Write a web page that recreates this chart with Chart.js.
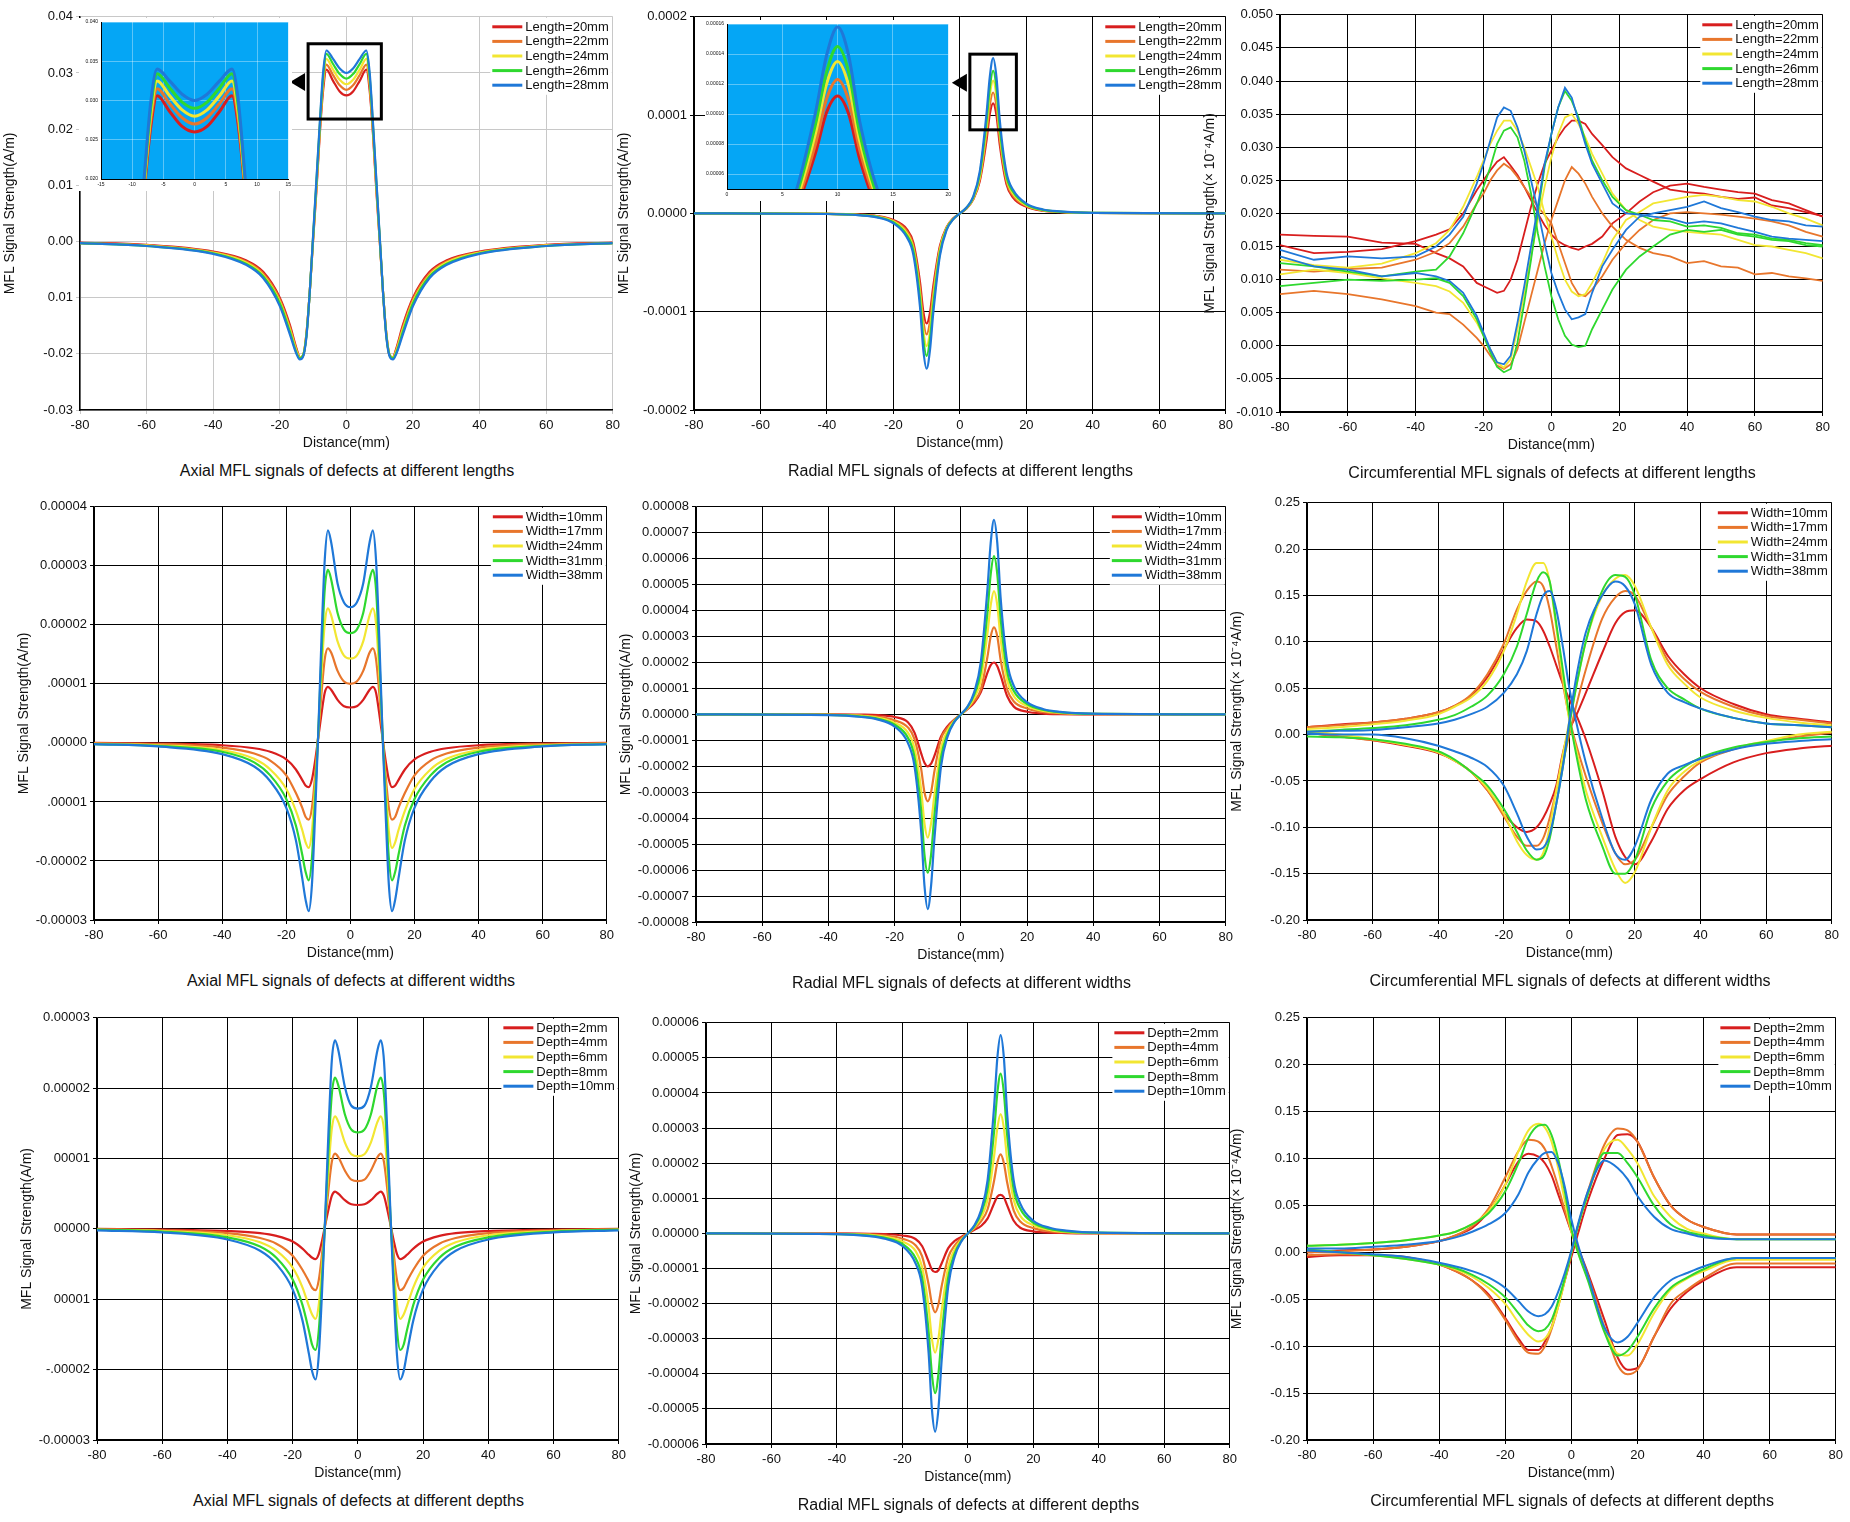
<!DOCTYPE html>
<html>
<head>
<meta charset="utf-8">
<script src="https://cdn.jsdelivr.net/npm/chart.js@4.4.1/dist/chart.umd.min.js"></script>
<style>
  body { margin: 0; background: #fff; width: 1850px; height: 1522px; position: relative; overflow: hidden;
         font-family: "Liberation Sans", Arial, sans-serif; }
  canvas { position: absolute; }
  .cap { position: absolute; font-size: 16px; color: #111; text-align: center; white-space: nowrap; }
</style>
</head>
<body>
<script>
// ---------- x grids ----------
const xAxial = [-80,-60,-40,-30,-25,-20,-17,-15,-14,-13,-12,-11,-10,-9,-8,-7,-6,-4,-2,0,2,4,6,7,8,9,10,11,12,13,14,15,17,20,25,30,40,60,80];
const xRadial = [-80,-40,-30,-25,-20,-16,-14,-12,-11,-10,-9,-8,-6,-4,-2,0,2,4,6,8,9,10,11,12,14,16,20,25,30,40,80];
const xCircLen = [-80,-70,-60,-50,-40,-34,-30,-26,-22,-20,-18,-16,-14,-12,-10,-8,-6,-4,-2,0,2,4,6,8,10,12,15,18,22,26,30,35,40,45,50,55,60,65,70,75,80];
const xCirc = [-80,-70,-60,-50,-40,-35,-30,-25,-20,-16,-13,-10,-8,-6,-4,-2,0,2,5,10,14,17,20,25,30,35,40,50,60,70,80];

// ---------- legends ----------
const lengthLabels = ['Length=20mm','Length=22mm','Length=24mm','Length=26mm','Length=28mm'];
const widthLabels = ['Width=10mm','Width=17mm','Width=24mm','Width=31mm','Width=38mm'];
const depthLabels = ['Depth=2mm','Depth=4mm','Depth=6mm','Depth=8mm','Depth=10mm'];
const colors = ['#d81e1e','#e8762c','#f2e632','#2fd82f','#1f78d8'];

// ---------- axial, lengths (x 1e-3 A/m) ----------
const axLenRed = [-0.2,-0.6,-1.8,-3.4,-5.4,-10,-14.8,-19,-20.6,-20.3,-16.4,-9,0.2,9,19,26.8,30.6,28.6,26.7,26,26.7,28.6,30.6,26.8,19,9,0.2,-9,-16.4,-20.3,-20.6,-19,-14.8,-10,-5.4,-3.4,-1.8,-0.6,-0.2];
const axLenOrange = [-0.3,-0.7,-1.9,-3.6,-5.7,-10.3,-15.2,-19.2,-20.6,-20.3,-16.5,-9,0.4,9.6,19.5,27.6,31.5,29.6,27.8,27,27.8,29.6,31.5,27.6,19.5,9.6,0.4,-9,-16.5,-20.3,-20.6,-19.2,-15.2,-10.3,-5.7,-3.6,-1.9,-0.7,-0.3];
const axLenYellow = [-0.3,-0.7,-2.0,-3.8,-6.0,-10.7,-15.6,-19.5,-20.7,-20.2,-16.6,-9,0.6,10,20,28.4,32.5,30.6,28.8,28,28.8,30.6,32.5,28.4,20,10,0.6,-9,-16.6,-20.2,-20.7,-19.5,-15.6,-10.7,-6.0,-3.8,-2.0,-0.7,-0.3];
const axLenGreen = [-0.3,-0.8,-2.1,-4.0,-6.2,-11,-16,-19.8,-20.8,-20.3,-16.8,-9,0.8,10.5,20.5,29.2,33.4,31.6,29.8,29,29.8,31.6,33.4,29.2,20.5,10.5,0.8,-9,-16.8,-20.3,-20.8,-19.8,-16,-11,-6.2,-4.0,-2.1,-0.8,-0.3];
const axLenBlue = [-0.3,-0.8,-2.2,-4.2,-6.5,-11.5,-16.5,-20,-21,-20.5,-17,-9,1,11,21,30,34,32.5,30.8,30,30.8,32.5,34,30,21,11,1,-9,-17,-20.5,-21,-20,-16.5,-11.5,-6.5,-4.2,-2.2,-0.8,-0.3];

// ---------- radial, lengths (x 1e-6 A/m) ----------
const raLenRed = [0,-0.4,-1.2,-2.7,-6.8,-16,-30,-70,-100,-112,-101,-74,-33,-14,-5,0,5,14,33,74,101,112,100,70,30,16,6.8,2.7,1.2,0.4,0];
const raLenOrange = [0,-0.4,-1.4,-3,-7.5,-18,-33,-76,-109,-123,-110,-80,-35,-14.5,-5.3,0,5.3,14.5,35,80,110,123,109,76,33,18,7.5,3,1.4,0.4,0];
const raLenYellow = [0,-0.5,-1.6,-3.3,-8.3,-20,-36,-82,-119,-135,-120,-87,-37,-15,-5.5,0,5.5,15,37,87,120,135,119,82,36,20,8.3,3.3,1.6,0.5,0];
const raLenGreen = [0,-0.5,-1.8,-3.6,-9,-22,-38,-87,-128,-145,-128,-93,-40,-16,-5.8,0,5.8,16,40,93,128,145,128,87,38,22,9,3.6,1.8,0.5,0];
const raLenBlue = [0,-0.6,-2,-4,-10,-24,-42,-95,-139,-158,-139,-101,-43,-17,-6,0,6,17,43,101,139,158,139,95,42,24,10,4,2,0.6,0];

// ---------- circumferential, lengths (x 1e-3), two branches each ----------
const ciLenRedA = [16.8,16.6,16.5,15.6,15.4,14.0,13.2,12.0,9.5,9.0,8.5,8.0,8.3,10.0,13.0,17.0,21.0,24.5,27.5,29.5,31.5,33.0,34.0,34.0,33.5,32.0,30.3,28.5,26.8,25.8,24.8,23.6,23.2,23.0,22.5,22.2,22.4,21.2,20.8,20.2,19.6];
const ciLenRedB = [15.2,14.0,14.2,14.6,15.8,16.8,17.6,20.0,23.5,25.0,26.5,27.8,28.5,27.2,25.8,24.0,22.0,20.0,18.2,16.8,15.8,15.2,14.8,14.5,15.0,15.4,16.5,18.5,20.0,21.8,23.2,24.2,24.5,24.0,23.6,23.2,23.0,22.0,21.5,20.5,19.5];
const ciLenOrangeA = [11.5,11.2,11.6,11.8,13.0,14.2,15.5,18.0,21.5,23.0,25.0,26.5,27.5,26.8,25.5,24.0,22.5,21.0,19.8,18.5,15.5,12.5,9.5,7.8,7.5,8.5,10.5,13.0,15.5,17.5,19.0,20.0,20.2,20.0,19.8,19.5,19.2,18.8,18.2,17.2,16.5];
const ciLenOrangeB = [7.8,8.3,7.8,7.0,6.0,5.0,4.8,3.2,1.2,0.0,-1.5,-3.0,-3.5,-2.8,-0.5,3.5,7.5,11.5,15.5,19.0,22.0,25.0,27.0,26.0,24.5,22.5,20.0,18.0,16.0,14.8,14.0,13.5,12.5,12.8,12.0,11.8,10.8,11.0,10.5,10.2,9.8];
const ciLenYellowA = [13.0,12.2,11.8,12.4,14.0,15.5,17.5,21.0,25.5,28.0,30.5,32.5,34.0,34.0,32.5,30.0,27.0,24.0,20.0,16.5,13.0,10.0,8.2,7.5,7.8,9.5,12.5,16.0,19.0,20.2,21.5,22.0,22.5,22.8,22.5,22.0,21.8,21.0,20.0,19.2,18.2];
const ciLenYellowB = [10.8,11.5,11.0,10.2,9.5,9.0,8.2,6.5,3.5,1.5,-0.5,-2.5,-3.3,-2.0,2.5,8.0,13.5,19.0,24.0,28.5,32.0,34.5,35.0,33.5,31.5,29.0,26.0,23.0,20.5,19.0,18.0,17.5,17.2,17.0,16.8,16.0,15.2,15.0,14.5,14.0,13.2];
const ciLenGreenA = [12.5,12.0,11.2,10.5,11.2,11.5,13.5,17.0,21.5,24.0,27.0,30.5,32.5,33.0,31.5,28.0,23.0,17.0,12.0,7.5,4.0,1.5,0.2,-0.2,0.0,2.5,5.5,8.5,11.5,13.5,15.0,16.8,17.5,17.2,17.5,16.8,16.5,16.0,15.8,15.2,15.0];
const ciLenGreenB = [9.0,9.5,10.0,9.8,10.0,10.2,9.5,7.5,4.0,1.5,-1.0,-3.2,-4.0,-3.5,0.5,6.5,13.0,20.0,27.0,32.0,36.0,38.5,37.0,34.5,31.0,28.0,25.0,22.5,20.5,19.8,19.0,18.8,18.0,18.2,17.8,17.0,16.8,16.2,16.0,15.5,15.2];
const ciLenBlueA = [14.5,13.0,13.5,13.2,13.5,15.0,16.8,19.5,24.5,27.5,31.0,34.5,36.0,35.5,33.0,29.5,25.0,20.5,15.5,11.0,8.0,5.5,4.0,4.3,4.8,8.0,12.0,14.5,17.5,19.5,20.0,20.5,21.0,21.8,20.8,20.2,19.5,19.0,18.8,18.2,18.0];
const ciLenBlueB = [13.5,12.0,11.5,10.5,11.0,10.5,9.8,8.0,4.5,2.0,-0.5,-2.5,-2.8,-1.5,3.5,9.0,15.0,21.0,27.5,32.0,36.0,39.0,37.5,34.0,30.5,27.5,24.5,21.5,20.0,19.8,19.5,19.2,18.5,18.8,18.5,17.8,17.2,16.5,16.2,16.0,15.8];

// ---------- axial, widths (x 1e-6) ----------
const axWidRed = [0,-0.1,-0.4,-0.9,-1.5,-2.8,-4.5,-6.3,-7.2,-7.5,-6.2,-3.0,1.0,5.0,8.5,9.5,9.0,7.3,6.2,6.0,6.2,7.3,9.0,9.5,8.5,5.0,1.0,-3.0,-6.2,-7.5,-7.2,-6.3,-4.5,-2.8,-1.5,-0.9,-0.4,-0.1,0];
const axWidOrange = [-0.1,-0.2,-0.8,-1.8,-3.0,-5.5,-8.5,-11,-12.5,-13,-11,-5.5,1.5,8.5,14.2,16,15.3,12.2,10.4,10,10.4,12.2,15.3,16,14.2,8.5,1.5,-5.5,-11,-13,-12.5,-11,-8.5,-5.5,-3.0,-1.8,-0.8,-0.2,-0.1];
const axWidYellow = [-0.1,-0.4,-1.2,-2.7,-4.5,-7.8,-11.5,-14.8,-16.8,-17.8,-15,-7.5,1.5,12,20.2,22.8,21.6,17.2,14.8,14.3,14.8,17.2,21.6,22.8,20.2,12,1.5,-7.5,-15,-17.8,-16.8,-14.8,-11.5,-7.8,-4.5,-2.7,-1.2,-0.4,-0.1];
const axWidGreen = [-0.2,-0.5,-1.5,-3.3,-5.5,-9.5,-14,-19,-21.8,-23.3,-19.5,-9.5,2,15,26,29.3,27.7,22,19.2,18.6,19.2,22,27.7,29.3,26,15,2,-9.5,-19.5,-23.3,-21.8,-19,-14,-9.5,-5.5,-3.3,-1.5,-0.5,-0.2];
const axWidBlue = [-0.2,-0.6,-1.9,-4,-6.5,-11,-16.5,-23,-26.5,-28.5,-24,-12,2,18,31,36,34,27,23.8,23,23.8,27,34,36,31,18,2,-12,-24,-28.5,-26.5,-23,-16.5,-11,-6.5,-4,-1.9,-0.6,-0.2];

// ---------- radial, widths (x 1e-6) ----------
const raWidRed = [0,0,-0.1,-0.3,-1,-3,-7,-15,-18.6,-20,-19,-16,-8.5,-4.5,-2,0,2,4.5,8.5,16,19,20,18.6,15,7,3,1,0.3,0.1,0,0];
const raWidOrange = [0,-0.1,-0.4,-0.9,-2.3,-5,-9.5,-21,-30,-33.5,-30,-22,-9.5,-5.2,-2.2,0,2.2,5.2,9.5,22,30,33.5,30,21,9.5,5,2.3,0.9,0.4,0.1,0];
const raWidYellow = [0,-0.2,-0.6,-1.3,-3.2,-7,-13,-29,-42,-47.5,-42,-31,-13,-6.2,-2.5,0,2.5,6.2,13,31,42,47.5,42,29,13,7,3.2,1.3,0.6,0.2,0];
const raWidGreen = [0,-0.2,-0.8,-1.7,-4,-9,-16.5,-37,-54,-61,-54,-39,-16.5,-7.5,-2.8,0,2.8,7.5,16.5,39,54,61,54,37,16.5,9,4,1.7,0.8,0.2,0];
const raWidBlue = [0,-0.3,-1,-2,-4.7,-11,-20,-45,-66,-75,-66,-48,-20,-8.5,-3,0,3,8.5,20,48,66,75,66,45,20,11,4.7,2,1,0.3,0];

// ---------- circumferential, widths (x 1e-3) ----------
const ciWidRedA = [8,11,13,17,24,31,42,62,92,115,124,122,112,95,75,55,38,22,-5,-60,-110,-132,-140,-115,-80,-60,-48,-30,-20,-15,-12];
const ciWidRedB = [2,-2,-6,-12,-20,-28,-40,-60,-85,-100,-105,-100,-90,-75,-55,-20,5,20,45,88,120,132,134,115,85,65,50,33,22,17,13];
const ciWidOrangeA = [8,10,13,17,24,31,43,65,98,135,155,165,160,135,95,55,18,-10,-45,-95,-128,-140,-135,-100,-65,-45,-30,-16,-8,-2,2];
const ciWidOrangeB = [2,-2,-6,-11,-19,-28,-40,-60,-88,-110,-120,-120,-112,-90,-60,-30,0,30,70,125,148,155,150,115,80,60,46,30,20,16,12];
const ciWidYellowA = [6,8,11,15,22,30,40,58,90,130,165,185,185,165,115,62,15,-15,-60,-110,-145,-160,-148,-100,-60,-40,-28,-15,-7,0,3];
const ciWidYellowB = [4,0,-5,-11,-19,-28,-40,-58,-85,-115,-130,-135,-128,-100,-60,-22,15,50,100,150,168,172,160,115,75,55,40,26,18,13,10];
const ciWidGreenA = [3,5,7,10,16,21,30,42,65,95,130,165,175,165,120,70,20,-20,-70,-120,-150,-150,-135,-80,-50,-35,-25,-14,-8,-4,-2];
const ciWidGreenB = [-2,-3,-5,-10,-18,-27,-40,-55,-80,-105,-125,-135,-132,-112,-75,-35,10,50,100,155,172,170,150,80,50,38,28,18,12,10,8];
const ciWidBlueA = [3,4,5,8,12,16,22,30,45,65,90,130,150,155,135,95,50,15,-30,-90,-128,-135,-120,-70,-42,-33,-26,-16,-10,-7,-5];
const ciWidBlueB = [1,0,0,-4,-12,-18,-25,-35,-55,-85,-110,-124,-122,-108,-75,-35,15,60,110,150,165,160,140,75,45,35,28,18,12,10,8];

// ---------- axial, depths (x 1e-6) ----------
const axDepRed = [0,-0.1,-0.3,-0.6,-1.0,-1.8,-2.8,-3.7,-4.1,-4.3,-3.6,-1.7,0.6,2.8,4.7,5.3,5.0,4.1,3.5,3.4,3.5,4.1,5.0,5.3,4.7,2.8,0.6,-1.7,-3.6,-4.3,-4.1,-3.7,-2.8,-1.8,-1.0,-0.6,-0.3,-0.1,0];
const axDepOrange = [-0.1,-0.2,-0.6,-1.3,-2.1,-3.8,-5.8,-7.5,-8.4,-8.7,-7.3,-3.6,1.0,5.7,9.5,10.7,10.2,8.3,7.0,6.8,7.0,8.3,10.2,10.7,9.5,5.7,1.0,-3.6,-7.3,-8.7,-8.4,-7.5,-5.8,-3.8,-2.1,-1.3,-0.6,-0.2,-0.1];
const axDepYellow = [-0.1,-0.3,-0.9,-1.9,-3.1,-5.5,-8.3,-11,-12.2,-12.8,-10.8,-5.4,1.2,8.5,14.2,16,15.2,12.3,10.6,10.3,10.6,12.3,15.2,16,14.2,8.5,1.2,-5.4,-10.8,-12.8,-12.2,-11,-8.3,-5.5,-3.1,-1.9,-0.9,-0.3,-0.1];
const axDepGreen = [-0.1,-0.4,-1.2,-2.5,-4.1,-7.2,-10.8,-14.5,-16.5,-17.2,-14.5,-7.2,1.6,11.3,19.1,21.5,20.4,16.3,14.1,13.7,14.1,16.3,20.4,21.5,19.1,11.3,1.6,-7.2,-14.5,-17.2,-16.5,-14.5,-10.8,-7.2,-4.1,-2.5,-1.2,-0.4,-0.1];
const axDepBlue = [-0.2,-0.5,-1.5,-3.1,-5.0,-8.6,-13,-17.8,-20.3,-21.4,-18,-9,2,14,23.9,26.8,25.4,20.2,17.5,17.1,17.5,20.2,25.4,26.8,23.9,14,2,-9,-18,-21.4,-20.3,-17.8,-13,-8.6,-5.0,-3.1,-1.5,-0.5,-0.2];

// ---------- radial, depths (x 1e-6) ----------
const raDepRed = [0,0,-0.1,-0.2,-0.6,-1.6,-3.6,-8,-10.3,-11,-10.5,-8.5,-4.2,-2.1,-1,0,1,2.1,4.2,8.5,10.5,11,10.3,8,3.6,1.6,0.6,0.2,0.1,0,0];
const raDepOrange = [0,-0.1,-0.3,-0.6,-1.5,-3.4,-6.5,-14.5,-20,-22.5,-20.2,-15,-6.8,-3.4,-1.4,0,1.4,3.4,6.8,15,20.2,22.5,20,14.5,6.5,3.4,1.5,0.6,0.3,0.1,0];
const raDepYellow = [0,-0.1,-0.4,-1,-2.3,-5,-9.5,-21,-30,-34,-30,-22,-9.5,-4.5,-1.8,0,1.8,4.5,9.5,22,30,34,30,21,9.5,5,2.3,1,0.4,0.1,0];
const raDepGreen = [0,-0.2,-0.6,-1.3,-3,-7,-12.5,-28,-40,-45.5,-40,-29,-12.5,-5.6,-2.1,0,2.1,5.6,12.5,29,40,45.5,40,28,12.5,7,3,1.3,0.6,0.2,0];
const raDepBlue = [0,-0.2,-0.8,-1.6,-3.6,-8.5,-15,-34,-50,-56.5,-50,-36,-15,-6.5,-2.3,0,2.3,6.5,15,36,50,56.5,50,34,15,8.5,3.6,1.6,0.8,0.2,0];

// ---------- circumferential, depths (x 1e-3) ----------
const ciDepRedA = [0,2,3,6,12,18,26,44,72,97,105,102,95,82,62,42,22,5,-22,-72,-112,-125,-123,-90,-60,-42,-30,-16,-16,-16,-16];
const ciDepRedB = [-5,-3,-3,-5,-13,-20,-30,-45,-70,-92,-104,-104,-95,-80,-55,-30,-5,20,55,100,125,126,118,80,50,35,27,19,19,19,19];
const ciDepOrangeA = [0,1,3,6,12,18,28,47,80,108,120,118,110,92,70,45,22,2,-25,-80,-120,-130,-125,-90,-55,-40,-28,-12,-12,-12,-12];
const ciDepOrangeB = [-3,-2,-3,-6,-13,-20,-30,-47,-72,-95,-107,-108,-100,-82,-58,-30,0,28,65,115,132,130,118,80,50,35,27,19,19,19,19];
const ciDepYellowA = [7,8,10,13,18,22,30,44,72,108,130,137,133,118,90,55,22,0,-28,-80,-108,-110,-98,-65,-40,-28,-20,-8,-8,-8,-8];
const ciDepYellowB = [3,0,-3,-7,-13,-18,-26,-38,-55,-75,-88,-95,-92,-80,-58,-30,0,28,62,110,120,110,95,60,38,25,20,14,14,14,14];
const ciDepGreenA = [7,8,10,13,18,22,30,42,65,95,122,135,136,125,100,65,25,0,-30,-85,-110,-105,-90,-60,-38,-27,-18,-6,-6,-6,-6];
const ciDepGreenB = [3,0,-3,-7,-13,-17,-24,-34,-48,-65,-78,-84,-82,-72,-52,-28,0,28,62,106,106,95,80,50,30,22,18,14,14,14,14];
const ciDepBlueA = [4,4,6,8,12,16,22,30,42,62,85,100,106,107,95,70,35,8,-25,-80,-96,-90,-75,-48,-30,-22,-15,-6,-6,-6,-6];
const ciDepBlueB = [2,0,-2,-5,-11,-15,-20,-27,-38,-52,-63,-68,-66,-58,-42,-22,2,30,65,98,90,78,60,38,25,20,16,14,14,14,14];

// ---------- y tick labels ----------
const ticksAxLen = ['-0.03','-0.02','0.01','0.00','0.01','0.02','0.03','0.04'];
const ticksRaLen = ['-0.0002','-0.0001','0.0000','0.0001','0.0002'];
const ticksAxWid = ['-0.00003','-0.00002','.00001','.00000','.00001','0.00002','0.00003','0.00004'];
const ticksAxDep = ['-0.00003','-.00002','00001','00000','00001','0.00002','0.00003'];

const AXIS_FONT = 'Liberation Sans';
const PAD_L = 82, PAD_B = 46, PAD_T = 8, PAD_R = 10;

// later series (thicker defects) sit on top, as in the figure
function series(xs, list, scale, lw, tension) {
  return list.map((s, i) => ({
    label: s.label,
    inLegend: s.inLegend !== false,
    order: list.length - i,
    data: xs.map((x, k) => ({ x: x, y: s.y[k] * scale })),
    borderColor: s.color, borderWidth: lw, pointRadius: 0,
    tension: tension, cubicInterpolationMode: tension > 0 ? 'monotone' : 'default'
  }));
}
function five(labels, arrs) {
  return arrs.map((a, i) => ({ label: labels[i], y: a, color: colors[i] }));
}
function ten(labels, pairs) {
  const out = [];
  pairs.forEach((p, i) => {
    out.push({ label: labels[i], y: p[0], color: colors[i] });
    out.push({ label: labels[i], y: p[1], color: colors[i], inLegend: false });
  });
  return out;
}

const legendPlugin = {
  id: 'boxLegend',
  afterDatasetsDraw(chart) {
    const o = chart.options.plugins.boxLegend;
    if (!o || !o.show) return;
    const ctx = chart.ctx, a = chart.chartArea;
    const items = chart.data.datasets.filter(d => d.inLegend);
    ctx.save();
    ctx.font = '13px ' + AXIS_FONT;
    let tw = 0;
    items.forEach(d => { tw = Math.max(tw, ctx.measureText(d.label).width); });
    const lineLen = 30, rowH = 14.6;
    const w = lineLen + 4 + tw + 4, h = rowH * items.length + 4;
    const x0 = a.right - w - 1, y0 = a.top + 1;
    ctx.fillStyle = '#fff';
    ctx.fillRect(x0, y0, w, h);
    ctx.textBaseline = 'middle';
    items.forEach((d, i) => {
      const y = y0 + 9 + i * rowH;
      ctx.strokeStyle = d.borderColor; ctx.lineWidth = 3;
      ctx.beginPath(); ctx.moveTo(x0 + 2, y); ctx.lineTo(x0 + 2 + lineLen, y); ctx.stroke();
      ctx.fillStyle = '#111';
      ctx.fillText(d.label, x0 + lineLen + 5, y + 0.5);
    });
    ctx.restore();
  }
};

const calloutPlugin = {
  id: 'callout',
  afterDatasetsDraw(chart) {
    const o = chart.options.plugins.callout;
    if (!o || !o.box) return;
    const ctx = chart.ctx, xs = chart.scales.x, ys = chart.scales.y;
    const l = xs.getPixelForValue(o.box[0]), r = xs.getPixelForValue(o.box[1]);
    const t = ys.getPixelForValue(o.box[3]), b = ys.getPixelForValue(o.box[2]);
    ctx.save();
    ctx.strokeStyle = '#000'; ctx.lineWidth = 3;
    ctx.strokeRect(l, t, r - l, b - t);
    const ty = ys.getPixelForValue(o.arrowY);
    ctx.fillStyle = '#000';
    ctx.beginPath();
    ctx.moveTo(l - 18, ty); ctx.lineTo(l - 3, ty - 9); ctx.lineTo(l - 3, ty + 9); ctx.closePath(); ctx.fill();
    ctx.restore();
  }
};

const insetBg = {
  id: 'insetBg',
  beforeDraw(chart) {
    const o = chart.options.plugins.insetBg;
    if (!o || !o.color) return;
    const ctx = chart.ctx, a = chart.chartArea;
    ctx.save();
    ctx.fillStyle = '#fff'; ctx.fillRect(0, 0, chart.width, chart.height);
    ctx.fillStyle = o.color; ctx.fillRect(a.left, a.top, a.right - a.left, a.bottom - a.top);
    ctx.restore();
  }
};

function place(box, padL, padT, padR, padB) {
  const c = document.createElement('canvas');
  const w = box[2] - box[0] + padL + padR, h = box[3] - box[1] + padT + padB;
  c.width = w; c.height = h;
  c.style.left = (box[0] - padL) + 'px'; c.style.top = (box[1] - padT) + 'px';
  c.style.width = w + 'px'; c.style.height = h + 'px';
  document.body.appendChild(c);
  return c;
}

function panel(p) {
  const c = place(p.box, PAD_L, PAD_T, PAD_R, PAD_B);
  const gridColor = p.grid || '#000';
  new Chart(c.getContext('2d'), {
    type: 'line',
    data: { datasets: p.datasets },
    options: {
      responsive: false, animation: false, devicePixelRatio: 1,
      layout: { padding: { top: PAD_T, right: PAD_R } },
      plugins: { legend: { display: false }, tooltip: { enabled: false },
                 boxLegend: { show: true }, callout: p.callout || {} },
      scales: {
        x: {
          type: 'linear', min: -80, max: 80,
          ticks: { stepSize: 20, color: '#111', font: { family: AXIS_FONT, size: 13 }, padding: 4 },
          grid: { color: gridColor, lineWidth: 1, tickLength: 4 },
          border: { color: '#000', width: 1.5 },
          title: { display: true, text: 'Distance(mm)', color: '#111', font: { family: AXIS_FONT, size: 14 }, padding: { top: 4 } },
          afterFit: s => { s.height = PAD_B; }
        },
        y: {
          min: p.yMin, max: p.yMax,
          ticks: {
            stepSize: p.yStep, color: '#111', font: { family: AXIS_FONT, size: 13 }, padding: 3,
            callback: p.yLabels ? (v, i) => p.yLabels[i] : (v => v.toFixed(p.yDec))
          },
          afterBuildTicks: s => {
            const out = [];
            for (let i = 0; ; i++) {
              const v = p.yMin + i * p.yStep;
              if (v > p.yMax + p.yStep * 1e-6) break;
              out.push({ value: +v.toPrecision(10) });
            }
            s.ticks = out;
          },
          grid: { color: gridColor, lineWidth: 1, tickLength: 4 },
          border: { color: '#000', width: 1.5 },
          title: { display: true, text: p.yTitle, color: '#111', font: { family: AXIS_FONT, size: 14 }, padding: { bottom: 2 } },
          afterFit: s => { s.width = PAD_L; }
        }
      }
    },
    plugins: [legendPlugin, calloutPlugin]
  });
  const cap = document.createElement('div');
  cap.className = 'cap';
  cap.textContent = p.caption;
  cap.style.left = p.box[0] + 'px';
  cap.style.width = (p.box[2] - p.box[0]) + 'px';
  cap.style.top = (p.box[3] + 52) + 'px';
  document.body.appendChild(cap);

  if (p.inset) {
    const q = p.inset;
    const ic = place(q.box, 22, 2, 2, 12);
    new Chart(ic.getContext('2d'), {
      type: 'line',
      data: { datasets: p.datasets.map(d => Object.assign({}, d, { borderWidth: 3 })) },
      options: {
        responsive: false, animation: false, devicePixelRatio: 1,
        layout: { padding: { top: 2, right: 2 } },
        plugins: { legend: { display: false }, tooltip: { enabled: false }, insetBg: { color: '#05a6f5' } },
        scales: {
          x: { type: 'linear', min: q.xMin, max: q.xMax,
               ticks: { stepSize: q.xStep, color: '#111', font: { family: AXIS_FONT, size: 5 }, padding: 1 },
               grid: { color: 'rgba(255,255,255,0.35)', tickLength: 2 },
               border: { color: '#000', width: 1 },
               afterFit: s => { s.height = 12; } },
          y: { min: q.yMin, max: q.yMax,
               ticks: { color: '#111', font: { family: AXIS_FONT, size: 5 }, padding: 1,
                        callback: v => v.toFixed(q.yDec) },
               afterBuildTicks: s => { s.ticks = q.yTicks.map(v => ({ value: v })); },
               grid: { color: 'rgba(255,255,255,0.35)', tickLength: 2 },
               border: { color: '#000', width: 1 },
               afterFit: s => { s.width = 22; } }
        }
      },
      plugins: [insetBg]
    });
  }
}

const yAxialTitle = 'MFL Signal Strength(A/m)';
const yCircTitle = 'MFL Signal Strength(\u00d7 10\u207b\u2074A/m)';

panel({
  box: [80, 14, 614, 410], yMin: -0.03, yMax: 0.04, yStep: 0.01, yLabels: ticksAxLen, grid: '#c8c8c8',
  yTitle: yAxialTitle, caption: 'Axial MFL signals of defects at different lengths',
  datasets: series(xAxial, five(lengthLabels, [axLenRed, axLenOrange, axLenYellow, axLenGreen, axLenBlue]), 1e-3, 2.2, 0.4),
  callout: { box: [-11.5, 10.5, 0.0218, 0.0352], arrowY: 0.0284 },
  inset: { box: [101, 20, 290, 179], xMin: -15, xMax: 15, xStep: 5, yMin: 0.02, yMax: 0.04,
           yTicks: [0.02, 0.025, 0.03, 0.035, 0.04], yDec: 3 }
});
panel({
  box: [694, 14, 1227, 410], yMin: -0.0002, yMax: 0.0002, yStep: 0.0001, yLabels: ticksRaLen,
  yTitle: yAxialTitle, caption: 'Radial MFL signals of defects at different lengths',
  datasets: series(xRadial, five(lengthLabels, [raLenRed, raLenOrange, raLenYellow, raLenGreen, raLenBlue]), 1e-6, 2.2, 0.4),
  callout: { box: [3, 17, 0.000085, 0.000162], arrowY: 0.000133 },
  inset: { box: [727, 22, 950, 189], xMin: 0, xMax: 20, xStep: 5, yMin: 0.00005, yMax: 0.00016,
           yTicks: [0.00006, 0.00008, 0.0001, 0.00012, 0.00014, 0.00016], yDec: 5 }
});
panel({
  box: [1280, 12, 1824, 412], yMin: -0.01, yMax: 0.05, yStep: 0.005, yDec: 3,
  yTitle: yCircTitle, caption: 'Circumferential MFL signals of defects at different lengths',
  datasets: series(xCircLen, ten(lengthLabels, [[ciLenRedA, ciLenRedB], [ciLenOrangeA, ciLenOrangeB],
    [ciLenYellowA, ciLenYellowB], [ciLenGreenA, ciLenGreenB], [ciLenBlueA, ciLenBlueB]]), 1e-3, 1.8, 0)
});
panel({
  box: [94, 504, 608, 920], yMin: -0.00003, yMax: 0.00004, yStep: 0.00001, yLabels: ticksAxWid,
  yTitle: yAxialTitle, caption: 'Axial MFL signals of defects at different widths',
  datasets: series(xAxial, five(widthLabels, [axWidRed, axWidOrange, axWidYellow, axWidGreen, axWidBlue]), 1e-6, 2.2, 0.4)
});
panel({
  box: [696, 504, 1227, 922], yMin: -0.00008, yMax: 0.00008, yStep: 0.00001, yDec: 5,
  yTitle: yAxialTitle, caption: 'Radial MFL signals of defects at different widths',
  datasets: series(xRadial, five(widthLabels, [raWidRed, raWidOrange, raWidYellow, raWidGreen, raWidBlue]), 1e-6, 2.2, 0.4)
});
panel({
  box: [1307, 500, 1833, 920], yMin: -0.2, yMax: 0.25, yStep: 0.05, yDec: 2,
  yTitle: yCircTitle, caption: 'Circumferential MFL signals of defects at different widths',
  datasets: series(xCirc, ten(widthLabels, [[ciWidRedA, ciWidRedB], [ciWidOrangeA, ciWidOrangeB],
    [ciWidYellowA, ciWidYellowB], [ciWidGreenA, ciWidGreenB], [ciWidBlueA, ciWidBlueB]]), 1e-3, 2, 0.4)
});
panel({
  box: [97, 1015, 620, 1440], yMin: -0.00003, yMax: 0.00003, yStep: 0.00001, yLabels: ticksAxDep,
  yTitle: yAxialTitle, caption: 'Axial MFL signals of defects at different depths',
  datasets: series(xAxial, five(depthLabels, [axDepRed, axDepOrange, axDepYellow, axDepGreen, axDepBlue]), 1e-6, 2.2, 0.4)
});
panel({
  box: [706, 1020, 1231, 1444], yMin: -0.00006, yMax: 0.00006, yStep: 0.00001, yDec: 5,
  yTitle: yAxialTitle, caption: 'Radial MFL signals of defects at different depths',
  datasets: series(xRadial, five(depthLabels, [raDepRed, raDepOrange, raDepYellow, raDepGreen, raDepBlue]), 1e-6, 2.2, 0.4)
});
panel({
  box: [1307, 1015, 1837, 1440], yMin: -0.2, yMax: 0.25, yStep: 0.05, yDec: 2,
  yTitle: yCircTitle, caption: 'Circumferential MFL signals of defects at different depths',
  datasets: series(xCirc, ten(depthLabels, [[ciDepRedA, ciDepRedB], [ciDepOrangeA, ciDepOrangeB],
    [ciDepYellowA, ciDepYellowB], [ciDepGreenA, ciDepGreenB], [ciDepBlueA, ciDepBlueB]]), 1e-3, 2, 0.4)
});
</script>
</body>
</html>
